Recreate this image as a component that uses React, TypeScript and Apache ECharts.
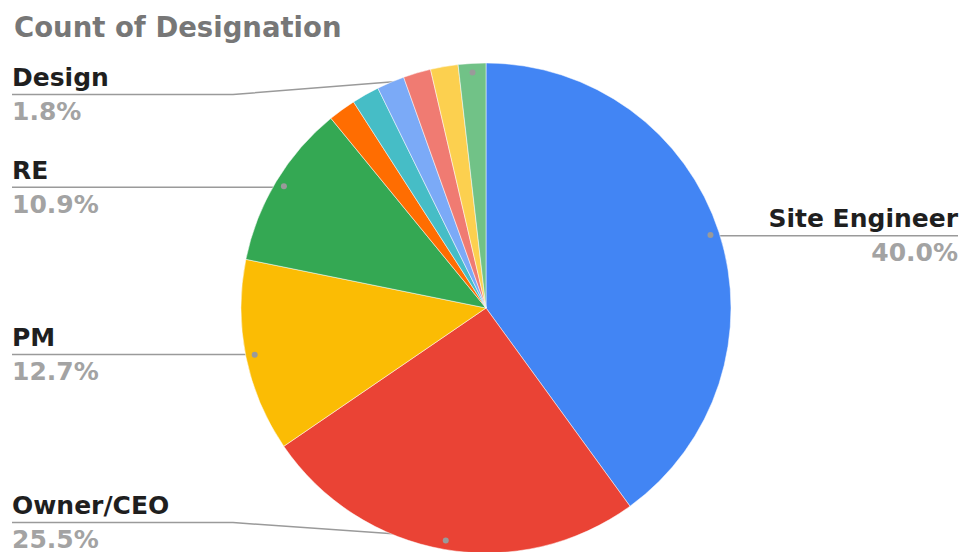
import React, { useEffect, useRef } from "react";
import * as echarts from "echarts";

const TITLE = "Count of Designation";
const categories = [
  "Site Engineer",
  "Owner/CEO",
  "PM",
  "RE",
  "Other 1",
  "Other 2",
  "Other 3",
  "Other 4",
  "Other 5",
  "Design",
];
const counts = [22, 14, 7, 6, 1, 1, 1, 1, 1, 1];
const colors = [
  "#4285F4",
  "#EA4335",
  "#FBBC04",
  "#34A853",
  "#FF6D01",
  "#46BDC6",
  "#7BAAF7",
  "#F07B72",
  "#FCD04F",
  "#71C287",
];
const labelled = [true, true, true, true, false, false, false, false, false, true];

const W = 964;
const H = 552;
const CX = 486;
const CY = 308;
const R = 245;
const DOT_R = 233;
const FONT = "DejaVu Sans";
const LABEL_LEFT = 12;
const LABEL_RIGHT = 6;
const LABEL_TOP = 65;
const LABEL_BOTTOM = 552;
const VIEW_TOP = -100;
const VIEW_H = 800;

export default function App() {
  const ref = useRef<HTMLDivElement>(null);

  useEffect(() => {
    if (!ref.current) return;
    const chart = echarts.init(ref.current, null, { renderer: "svg" });
    const total = counts.reduce((a, b) => a + b, 0);

    const baseData = categories.map((name, i) => ({
      name,
      value: counts[i],
      itemStyle: { color: colors[i] },
    }));

    const labelData = categories.map((name, i) => ({
      name,
      value: counts[i],
      label: { show: labelled[i] },
      labelLine: { show: labelled[i] },
    }));

    const viewW = W - LABEL_LEFT - LABEL_RIGHT;

    chart.setOption({
      animation: false,
      backgroundColor: "#ffffff",
      title: {
        text: TITLE,
        left: 14,
        top: 13,
        padding: 0,
        textStyle: {
          fontFamily: FONT,
          fontWeight: "bold",
          fontSize: 27.5,
          color: "#777777",
        },
      },
      series: [
        {
          type: "pie",
          left: 0,
          top: 0,
          width: W,
          height: H,
          center: [CX, CY],
          radius: R,
          startAngle: 90,
          clockwise: true,
          silent: true,
          label: { show: false },
          labelLine: { show: false },
          itemStyle: { borderColor: "#ffffff", borderWidth: 0.5 },
          data: baseData,
        },
        {
          type: "pie",
          left: LABEL_LEFT,
          top: VIEW_TOP,
          width: viewW,
          height: VIEW_H,
          center: [CX - LABEL_LEFT, CY - VIEW_TOP],
          radius: DOT_R,
          startAngle: 90,
          clockwise: true,
          silent: true,
          itemStyle: { color: "rgba(0,0,0,0)", borderWidth: 0 },
          emphasis: { disabled: true },
          avoidLabelOverlap: true,
          label: {
            show: true,
            position: "outside",
            alignTo: "edge",
            edgeDistance: 0,
            distanceToLabelLine: 0,
            formatter: (p: any) =>
              `{n|${p.name}}\n{p|${((p.value / total) * 100).toFixed(1)}%}`,
            rich: {
              n: {
                fontFamily: FONT,
                fontWeight: "bold",
                fontSize: 25,
                color: "#1f1f1f",
                lineHeight: 34,
              },
              p: {
                fontFamily: FONT,
                fontWeight: "bold",
                fontSize: 25,
                color: "#a3a3a3",
                lineHeight: 34,
              },
            },
          },
          labelLine: {
            show: true,
            length: 1,
            length2: 1,
            lineStyle: { color: "#9a9a9a", width: 1.5 },
          },
          labelLayout: (p: any) => {
            const pts = p.labelLinePoints;
            const rect = p.labelRect;
            const h = rect.height;
            const c0 = rect.y + h / 2;
            const y = Math.min(
              Math.max(c0, LABEL_TOP + h / 2),
              LABEL_BOTTOM - h / 2
            );
            if (!pts || !pts.length) return { dy: y - c0 };
            const isLeft = rect.x + rect.width / 2 < CX;
            const edgeX = isLeft ? rect.x : rect.x + rect.width;
            const start = pts[0];
            const bendX = isLeft ? CX - R - 8 : CX + R + 8;
            const newPts =
              Math.abs(start[1] - y) < 1.5
                ? [[start[0], y], [edgeX, y]]
                : [start, [bendX, y], [edgeX, y]];
            return { dy: y - c0, labelLinePoints: newPts };
          },
          data: labelData,
        },
        {
          type: "pie",
          left: 0,
          top: 0,
          width: W,
          height: H,
          center: [CX, CY],
          radius: [DOT_R - 2, DOT_R + 2],
          startAngle: 90,
          clockwise: true,
          silent: true,
          itemStyle: { color: "rgba(0,0,0,0)", borderWidth: 0 },
          emphasis: { disabled: true },
          label: {
            show: true,
            position: "inside",
            formatter: " ",
            fontSize: 1,
            width: 6,
            height: 6,
            lineHeight: 6,
            padding: 0,
            borderRadius: 3,
            backgroundColor: "#9a9a9a",
          },
          labelLine: { show: false },
          data: categories.map((name, i) => ({
            name,
            value: counts[i],
            label: { show: labelled[i] },
          })),
        },
      ],
    });

    return () => chart.dispose();
  }, []);

  return (
    <div
      ref={ref}
      style={{
        position: "fixed",
        left: 0,
        top: 0,
        width: W,
        height: H,
        background: "#ffffff",
      }}
    />
  );
}
